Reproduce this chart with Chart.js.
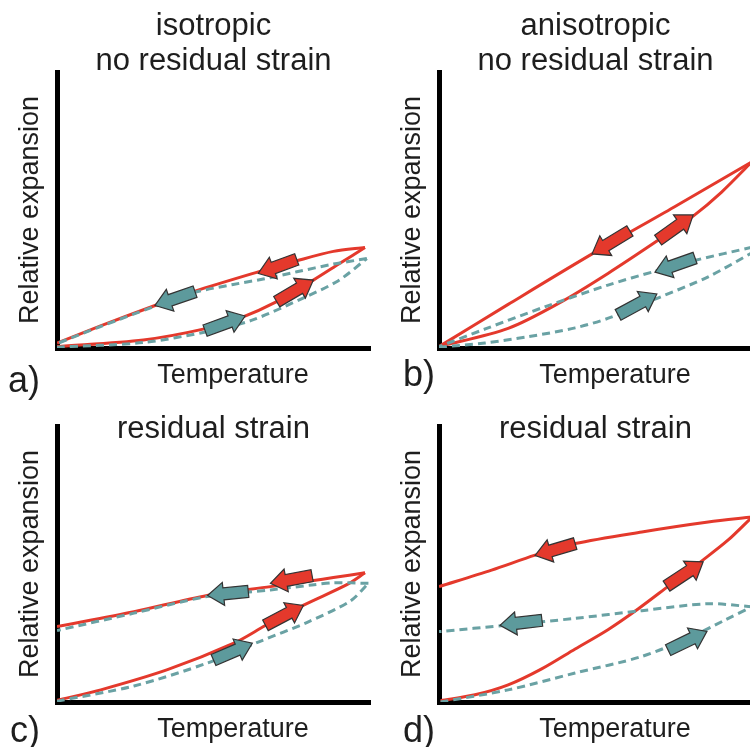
<!DOCTYPE html>
<html>
<head>
<meta charset="utf-8">
<script src="https://cdn.jsdelivr.net/npm/chart.js@4.4.1/dist/chart.umd.min.js"></script>
<style>
  html, body { margin: 0; padding: 0; background: #fff; }
  #wrap { position: relative; width: 750px; height: 747px; overflow: hidden; background: #fff; }
  .panel { position: absolute; width: 372px; height: 400px; }
</style>
</head>
<body>
<div id="wrap">
  <div class="panel" style="left:0;top:0"><canvas id="pa" width="372" height="400"></canvas></div>
  <div class="panel" style="left:382px;top:0"><canvas id="pb" width="372" height="400"></canvas></div>
  <div class="panel" style="left:0;top:354px"><canvas id="pc" width="372" height="400"></canvas></div>
  <div class="panel" style="left:382px;top:354px"><canvas id="pd" width="372" height="400"></canvas></div>
</div>
<script>
// curves: [temperature, expansion] (axes 0..100)
// a) isotropic, no residual strain
const aRedHeat  = [[0,0.5],[27.6,2.9],[47.8,7.1],[58.5,10.8],[70.2,16.8],[81.9,24.6],[90.4,30.7],[98.4,36.4]];
const aRedCool  = [[98.4,36.4],[88.3,35],[76.6,31.6],[64.3,27.6],[44.1,20.6],[31.3,15.4],[13.7,7.9],[0,1.8]];
const aTealHeat = [[0,0.3],[27.6,2],[47.8,5.9],[62.1,10],[79.2,18.4],[89.9,24.4],[99,32.4]];
const aTealCool = [[99,32.4],[88.3,30.4],[76.6,27.6],[65.9,25],[56.3,23],[44.1,20.2],[31.3,15.1],[13.7,7.7],[0,1.6]];
const aRedArrows  = [[76.6,32.1,64.3,27],[70.2,16.8,81.9,24.6]];
const aTealArrows = [[44.1,20.4,31.3,15.4],[47.3,6.3,60.1,11.6]];

// b) anisotropic, no residual strain
const bRedHeat  = [[0,0.5],[22.1,7.1],[39.2,16.8],[54.1,27.1],[70.1,39.1],[81.2,47.8],[90.3,56.5],[100,67.5]];
const bRedCool  = [[100,67.5],[75,51],[48.8,34],[22.1,15.8],[0,0.5]];
const bTealHeat = [[0,0.3],[14.7,1.8],[28.5,4.1],[43.5,7.3],[54.1,10.8],[70.1,18.2],[86,25.8],[100,34.5]];
const bTealCool = [[100,36.5],[82,31.8],[69,27.8],[54,22.8],[34,15],[15,7],[0,0.5]];
const bRedArrows  = [[61,42.4,48.9,34.1],[70,39.1,81.2,48.2]];
const bTealArrows = [[81.8,32.6,69,27.5],[57.2,12,69.6,19.6]];

// c) residual strain
const cRedHeat  = [[0,0.6],[14,4.4],[35.3,11.7],[56.5,21.3],[66.6,27.7],[78.8,35.1],[92.6,42.5],[98.4,46.8]];
const cRedCool  = [[98.4,46.8],[88.3,45.1],[81.4,43.9],[68.2,41.8],[48,38.6],[24.6,32.7],[0,27.3]];
const cTealHeat = [[0,0.3],[24.6,5.8],[48,14.1],[64.9,22],[79.8,28.8],[93.6,36.5],[99.5,43]];
const cTealCool = [[99.5,43],[88.3,43.2],[81.4,42.4],[68.2,40.6],[48,38.2],[24.6,32.2],[0,25.9]];
const cRedArrows  = [[81.5,45.8,68.2,43],[66.6,27.8,78.7,35]];
const cTealArrows = [[61.1,40.1,48.1,38.6],[50,15.2,62.4,21.3]];

// d) residual strain
const dRedHeat  = [[0.5,0.5],[11.5,2.6],[22.1,6.2],[32.8,12],[43.5,19.2],[54.1,26.3],[63.7,33.8],[73.3,42],[84.4,51.5],[92.4,58.7],[100,67]];
const dRedCool  = [[100,67],[86,65.2],[64.8,61.6],[43.5,57.4],[30.7,53.2],[16.8,47.8],[0,41.8]];
const dTealHeat = [[0.5,0],[22.1,4.4],[43.5,10.5],[64.8,16.5],[80.7,23.7],[91.4,29.7],[100,34.5]];
const dTealCool = [[100,34.5],[86,35.6],[64.8,33.1],[43.5,30.3],[22.1,27.9],[0,25.5]];
const dRedArrows  = [[43.5,57.4,30.7,53.1],[72.7,42,84.4,50.8]];
const dTealArrows = [[32.9,29.6,19.5,27.8],[73.2,18.8,85.6,25.6]];

const RED = "#e4392c";
const TEAL = "#6aa2a4";
const TEAL_FILL = "#5d9a9c";
const FONT = "'Liberation Sans', Arial, sans-serif";

const toPts = arr => arr.map(p => ({ x: p[0], y: p[1] }));

function curve(points, color, dashed) {
  return {
    data: toPts(points),
    showLine: true,
    borderColor: color,
    borderWidth: 3,
    borderDash: dashed ? [8, 5] : [],
    pointRadius: 0,
    tension: 0.3,
    fill: false
  };
}

function drawArrow(ctx, x0, y0, x1, y1, fill) {
  const ang = Math.atan2(y1 - y0, x1 - x0);
  const len = Math.hypot(x1 - x0, y1 - y0);
  const bw = 6, hw = 11.5, hl = 16;
  ctx.save();
  ctx.translate(x0, y0);
  ctx.rotate(ang);
  ctx.beginPath();
  ctx.moveTo(0, -bw);
  ctx.lineTo(len - hl, -bw);
  ctx.lineTo(len - hl, -hw);
  ctx.lineTo(len, 0);
  ctx.lineTo(len - hl, hw);
  ctx.lineTo(len - hl, bw);
  ctx.lineTo(0, bw);
  ctx.closePath();
  ctx.fillStyle = fill;
  ctx.fill();
  ctx.lineWidth = 1.2;
  ctx.strokeStyle = "#333";
  ctx.stroke();
  ctx.restore();
}

// arrows along the curves, placed with the chart's own scales
const arrowPlugin = {
  id: "arrows",
  afterDatasetsDraw(chart, args, opts) {
    const { ctx, scales: { x, y } } = chart;
    (opts.red || []).forEach(a => drawArrow(ctx, x.getPixelForValue(a[0]), y.getPixelForValue(a[1]), x.getPixelForValue(a[2]), y.getPixelForValue(a[3]), RED));
    (opts.teal || []).forEach(a => drawArrow(ctx, x.getPixelForValue(a[0]), y.getPixelForValue(a[1]), x.getPixelForValue(a[2]), y.getPixelForValue(a[3]), TEAL_FILL));
  }
};

// panel headings, x label and panel letter
const textPlugin = {
  id: "panelText",
  afterDraw(chart, args, opts) {
    const ctx = chart.ctx;
    const mid = (chart.chartArea.left + chart.chartArea.right) / 2;
    ctx.save();
    ctx.fillStyle = "#1e1e1e";
    ctx.textBaseline = "alphabetic";
    ctx.textAlign = "center";
    ctx.font = "31px " + FONT;
    opts.title.forEach((t, i) => ctx.fillText(t, mid, opts.titleY[i]));
    ctx.font = "27px " + FONT;
    ctx.fillText("Temperature", 233, 383);
    ctx.textAlign = "left";
    ctx.font = "36px " + FONT;
    ctx.fillText(opts.letter, opts.letterX, opts.letterY);
    ctx.restore();
  }
};

function makePanel(id, sets, text) {
  new Chart(document.getElementById(id), {
    type: "scatter",
    data: {
      datasets: [
        curve(sets.tealHeat, TEAL, true),
        curve(sets.tealCool, TEAL, true),
        curve(sets.redHeat, RED, false),
        curve(sets.redCool, RED, false)
      ]
    },
    options: {
      responsive: false,
      animation: false,
      layout: { padding: { top: 72, right: 2, left: 0, bottom: 0 } },
      plugins: {
        legend: { display: false },
        tooltip: { enabled: false },
        arrows: { red: sets.redArrows, teal: sets.tealArrows },
        panelText: text
      },
      scales: {
        x: {
          type: "linear", min: 0, max: 100, z: 1,
          grid: { display: false, drawTicks: false },
          ticks: { display: false },
          border: { color: "#000", width: 5 },
          afterFit: s => { s.height = 52; }
        },
        y: {
          type: "linear", min: 0, max: 100, z: 1,
          grid: { display: false, drawTicks: false },
          ticks: { display: false },
          border: { color: "#000", width: 5 },
          title: {
            display: true, text: "Relative expansion", color: "#1e1e1e",
            font: { size: 27, family: FONT }, padding: { top: 14, bottom: 0 }
          },
          afterFit: s => { s.width = 57; }
        }
      }
    },
    plugins: [arrowPlugin, textPlugin]
  });
}

makePanel("pa",
  { redHeat: aRedHeat, redCool: aRedCool, tealHeat: aTealHeat, tealCool: aTealCool, redArrows: aRedArrows, tealArrows: aTealArrows },
  { title: ["isotropic", "no residual strain"], titleY: [35, 70], letter: "a)", letterX: 8, letterY: 392 });
makePanel("pb",
  { redHeat: bRedHeat, redCool: bRedCool, tealHeat: bTealHeat, tealCool: bTealCool, redArrows: bRedArrows, tealArrows: bTealArrows },
  { title: ["anisotropic", "no residual strain"], titleY: [35, 70], letter: "b)", letterX: 21, letterY: 386 });
makePanel("pc",
  { redHeat: cRedHeat, redCool: cRedCool, tealHeat: cTealHeat, tealCool: cTealCool, redArrows: cRedArrows, tealArrows: cTealArrows },
  { title: ["residual strain"], titleY: [84], letter: "c)", letterX: 10, letterY: 388 });
makePanel("pd",
  { redHeat: dRedHeat, redCool: dRedCool, tealHeat: dTealHeat, tealCool: dTealCool, redArrows: dRedArrows, tealArrows: dTealArrows },
  { title: ["residual strain"], titleY: [84], letter: "d)", letterX: 21, letterY: 388 });
</script>
</body>
</html>
